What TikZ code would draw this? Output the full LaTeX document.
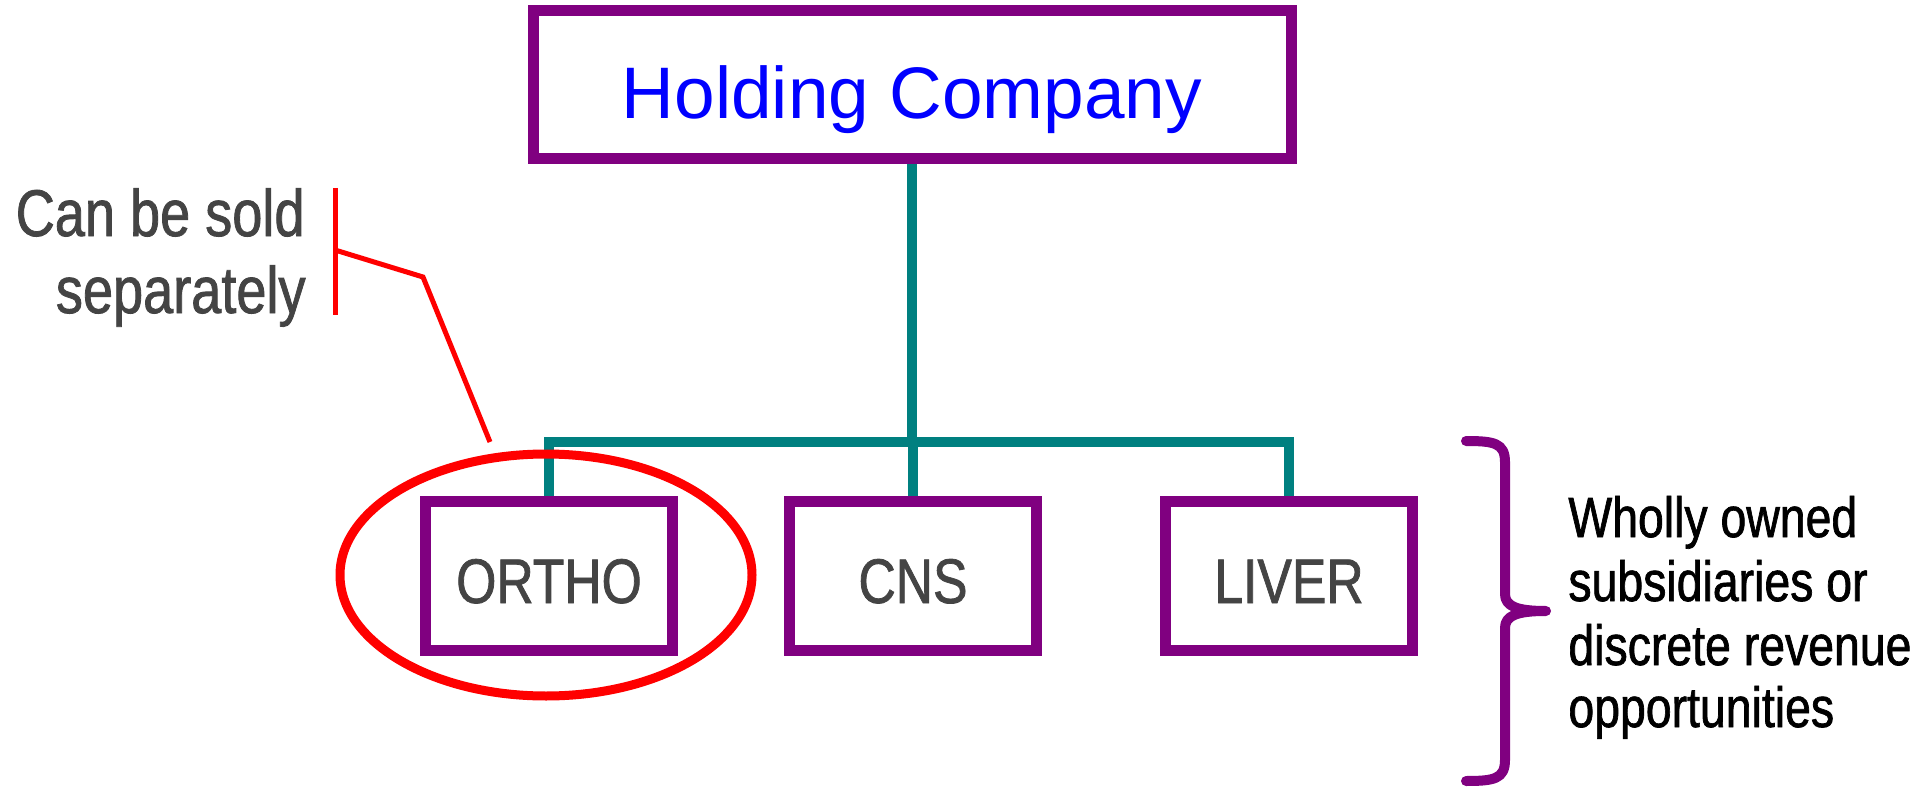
\documentclass[tikz,border=0pt]{standalone}
\usepackage{fontspec}
\setmainfont{Liberation Sans}
\newfontfamily\narrowfont[FakeStretch=0.82,FakeBold=1.2]{Liberation Sans}
\usetikzlibrary{shapes.geometric}
\definecolor{boxpurple}{HTML}{800080}
\definecolor{connteal}{HTML}{008080}
\definecolor{txtgrey}{HTML}{444444}
\definecolor{hblue}{HTML}{0000FF}
\tikzset{
  orgbox/.style={draw=boxpurple, line width=5.5pt, fill=white, inner sep=0pt, minimum width=123.5pt, minimum height=74.5pt,
    font=\narrowfont\fontsize{31.5}{36}\selectfont, text=txtgrey, text height=27pt, text depth=0pt},
  topbox/.style={draw=boxpurple, line width=5.5pt, fill=white, inner sep=0pt, minimum width=379pt, minimum height=74pt,
    font=\fontsize{36.5}{42}\selectfont, text=hblue, text height=34pt, text depth=0pt},
  conn/.style={draw=connteal, line width=5pt},
  callout/.style={draw=red, line width=2.5pt},
  noteleft/.style={inner sep=0pt, anchor=base east, text=txtgrey, font=\narrowfont\fontsize{33}{38}\selectfont},
  noteright/.style={inner sep=0pt, anchor=base west, text=black, font=\narrowfont\fontsize{28.3}{32}\selectfont},
  bracestyle/.style={draw=boxpurple, line width=5pt, line cap=round, line join=round}
}
\begin{document}
\begin{tikzpicture}[x=0.5pt,y=-0.5pt]
\useasboundingbox[fill=white] (0,0) rectangle (1923,792);
% connectors
\coordinate (bar) at (0,442);
\node[topbox] (hold) at (912,85) {Holding Company};
\node[orgbox] (ortho) at (549,576) {ORTHO};
\node[orgbox] (cns) at (913,576) {CNS};
\node[orgbox] (liver) at (1289,576) {LIVER};
\draw[conn] (hold.south) -- (hold.south |- bar);
\draw[conn, line join=miter] (ortho.north) -- (ortho.north |- bar) -- (liver.north |- bar) -- (liver.north);
\draw[conn] (cns.north) -- (cns.north |- bar);
% red oval
\node[ellipse, draw=red, line width=4.5pt, inner sep=0pt, minimum width=206pt, minimum height=121pt] (oval) at (546,575) {};
% callout
\coordinate (ct) at (335,188);
\coordinate (cb) at (335,315);
\coordinate (cm) at (335,250);
\coordinate (ck) at (423,277);
\coordinate (ce) at (490,442);
\draw[callout] (ct) -- (cb);
\draw[callout, line join=miter] (cm) -- (ck) -- (ce);
\node[noteleft] (sold1) at (305,236) {Can be sold};
\node[noteleft] (sold2) at (306,313) {separately};
% brace
\draw[bracestyle] (1466,441) .. controls (1494,441) and (1505,443) .. (1505,462) -- (1505,594)
  .. controls (1505,606) and (1516,611) .. (1546,611)
  .. controls (1516,611) and (1505,616) .. (1505,628) -- (1505,760)
  .. controls (1505,779) and (1494,781) .. (1466,781);
\node[noteright] (w1) at (1568,537) {Wholly owned};
\node[noteright] (w2) at (1568,601) {subsidiaries or};
\node[noteright] (w3) at (1568,665) {discrete revenue};
\node[noteright] (w4) at (1568,727) {opportunities};
\end{tikzpicture}
\end{document}
